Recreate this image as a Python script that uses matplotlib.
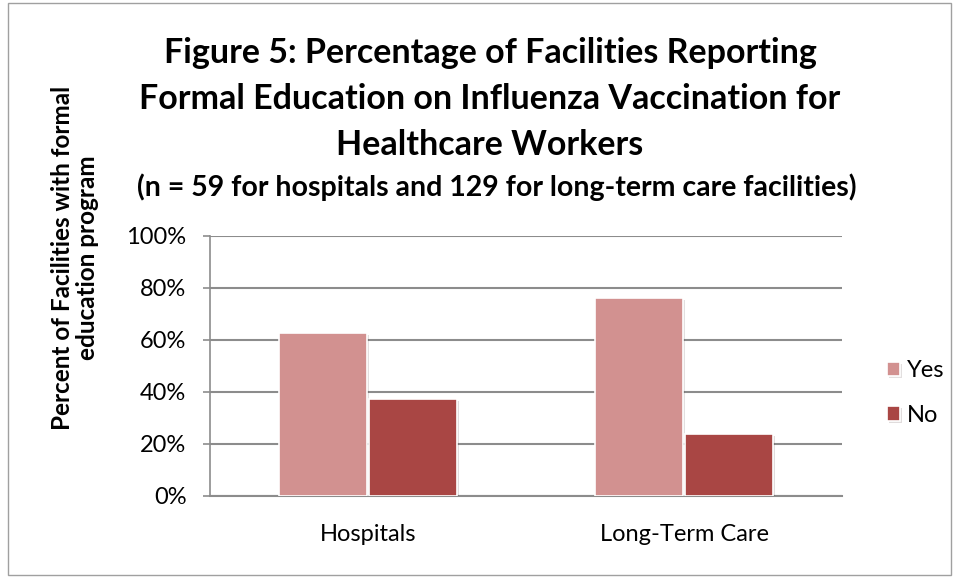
import matplotlib
matplotlib.use("Agg")
import matplotlib.pyplot as plt
from matplotlib.patches import Rectangle
import matplotlib.patheffects as pe
import numpy as np

categories = ["Hospitals", "Long-Term Care"]
series_names = ["Yes", "No"]
yes_values = [62.7, 76.0]
no_values = [37.3, 24.0]
ytick_vals = [0, 20, 40, 60, 80, 100]
ytick_labels = ["0%", "20%", "40%", "60%", "80%", "100%"]
colors = ["#D29190", "#A94644"]

plt.rcParams['font.family'] = ['Lato', 'DejaVu Sans']

fig = plt.figure(figsize=(9.59, 5.78), dpi=100)
W, H = 959, 578
# outer border
fig.patches.append(Rectangle((8 / W, 3 / H), 943 / W, 572 / H, transform=fig.transFigure,
                             fill=False, edgecolor="#a0a0a0", linewidth=1.0))

ax = fig.add_axes([210 / W, (H - 496) / H, (842 - 210) / W, (496 - 236) / H])
x = np.arange(len(categories))
bw = 0.278
shadow = [pe.SimplePatchShadow(offset=(1.5, -1.5), alpha=0.15), pe.Normal()]
for i, (vals, name) in enumerate(zip([yes_values, no_values], series_names)):
    off = (i - 0.5) * (bw + 0.006)
    ax.bar(x + off, vals, width=bw, color=colors[i], edgecolor="white", linewidth=1.2,
           label=name, zorder=3, path_effects=shadow)

ax.set_xlim(-0.5, 1.5)
ax.set_ylim(0, 100)
ax.set_yticks(ytick_vals)
ax.set_yticklabels(ytick_labels, fontsize=17)
ax.set_xticks(x)
ax.set_xticklabels(categories, fontsize=17)
ax.tick_params(axis='x', length=0, pad=20)
ax.tick_params(axis='y', length=5, color="#8c8c8c", width=1.2, pad=12)
ax.grid(axis='y', color="#8c8c8c", linewidth=1.5, zorder=0)
for s in ["top", "right"]:
    ax.spines[s].set_visible(False)
ax.spines["left"].set_color("#8c8c8c")
ax.spines["left"].set_linewidth(1.2)
ax.spines["bottom"].set_color("#8c8c8c")
ax.spines["bottom"].set_linewidth(1.5)
ax.set_axisbelow(True)

fig.text(490 / W, 1 - 99 / H,
         "Figure 5: Percentage of Facilities Reporting\nFormal Education on Influenza Vaccination for\nHealthcare Workers",
         ha="center", va="center", fontsize=24.5, fontweight="bold", linespacing=1.55)
fig.text(497 / W, 1 - 187 / H,
         "(n = 59 for hospitals and 129 for long-term care facilities)",
         ha="center", va="center", fontsize=20.5, fontweight="bold")
fig.text(75 / W, 1 - 258 / H, "Percent of Facilities with formal\neducation program",
         ha="center", va="center", rotation=90, fontsize=17.5, fontweight="bold", linespacing=1.15)

leg = ax.legend(loc="center left", bbox_to_anchor=((887 - 210) / 632, 0.396), frameon=False,
                fontsize=17, handlelength=0.55, handleheight=0.55, handletextpad=0.3,
                labelspacing=1.0, borderpad=0, borderaxespad=0)

fig.savefig("out.png", dpi=100)
